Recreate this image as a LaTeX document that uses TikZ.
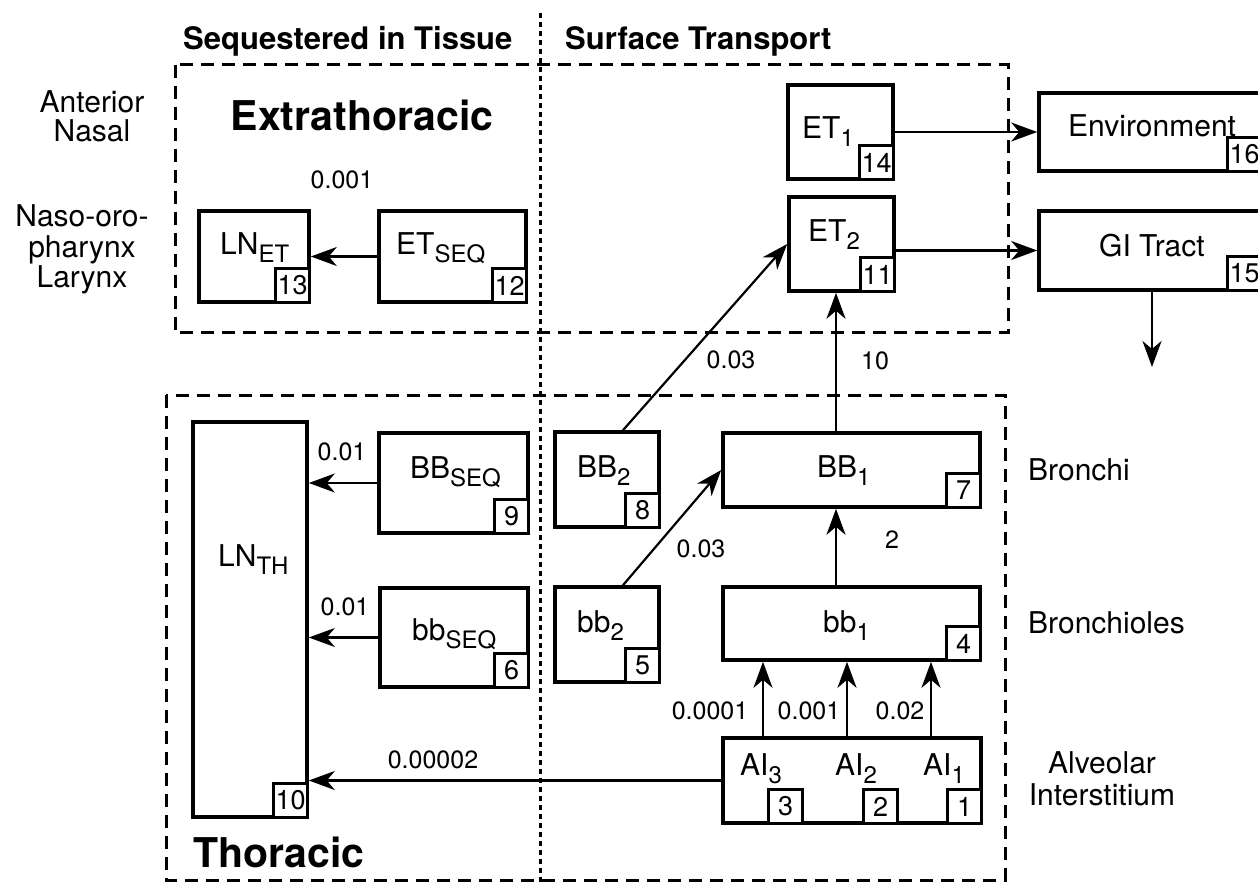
\documentclass[tikz,border=0pt]{standalone}
\usepackage{fontspec}
\setmainfont{TeX Gyre Heros}
\usetikzlibrary{arrows.meta}
\newcommand\sbs[1]{\raisebox{-8pt}{\fontsize{24}{24}\selectfont #1}}
\begin{document}
\begin{tikzpicture}[x=1pt,y=-1pt,
  box/.style={draw, line width=3.6pt, inner sep=0pt},
  numbox/.style={draw, line width=2.4pt, minimum size=34pt, inner sep=0pt, fill=white, font=\fontsize{27}{27}\selectfont},
  lbl/.style={inner sep=0pt, font=\fontsize{30}{30}\selectfont},
  rate/.style={inner sep=0pt, font=\fontsize{25}{25}\selectfont},
  head/.style={inner sep=0pt, font=\fontsize{31}{31}\selectfont\bfseries},
  big/.style={inner sep=0pt, font=\fontsize{41}{41}\selectfont\bfseries},
  region/.style={line width=3pt, dash pattern=on 13pt off 8pt},
  divider/.style={line width=3pt, dash pattern=on 5pt off 4pt},
  flow/.style={line width=2.2pt, -{Stealth[length=26pt,width=19pt,inset=8pt]}},
]
\useasboundingbox (0,0) rectangle (1258,882);

% regions
\draw[region] (175,65) rectangle (1008,333);
\draw[region] (166,395) rectangle (1005,880);
\draw[divider] (540,13) -- (540,882);

% headings
\node[head, anchor=base west] (hSeq) at (183,50) {Sequestered in Tissue};
\node[head, anchor=base west] (hSurf) at (565,50) {Surface Transport};
\node[big, anchor=base] (hET) at (362,131) {Extrathoracic};
\node[big, anchor=base west] (hTH) at (193,867) {Thoracic};

% side labels
\node[lbl, anchor=base] (lAnt) at (92,113) {Anterior};
\node[lbl, anchor=base] (lNas) at (92,142) {Nasal};
\node[lbl, anchor=base] (lNaso) at (82,227) {Naso-oro-};
\node[lbl, anchor=base] (lPhar) at (82,258) {pharynx};
\node[lbl, anchor=base] (lLar) at (82,288) {Larynx};
\node[lbl, anchor=base west] (lBr) at (1028,480) {Bronchi};
\node[lbl, anchor=base west] (lBrl) at (1028,633) {Bronchioles};
\node[lbl, anchor=base] (lAlv) at (1102,773) {Alveolar};
\node[lbl, anchor=base] (lInt) at (1102,805) {Interstitium};

% compartments
\node[box, minimum width=110pt, minimum height=91pt] (LNET) at (254,256.5) {};
\node[box, minimum width=147pt, minimum height=91pt] (ETSEQ) at (452.5,256.5) {};
\node[box, minimum width=105pt, minimum height=94pt] (ET1) at (840.5,132) {};
\node[box, minimum width=105pt, minimum height=94pt] (ET2) at (841.5,244) {};
\node[box, minimum width=222pt, minimum height=78pt] (ENV) at (1150,132) {};
\node[box, minimum width=222pt, minimum height=79pt] (GI) at (1150,250.5) {};
\node[box, minimum width=114pt, minimum height=395pt] (LNTH) at (250,619.5) {};
\node[box, minimum width=149pt, minimum height=100pt] (BBSEQ) at (453.5,483) {};
\node[box, minimum width=148pt, minimum height=99pt] (bbSEQ) at (454,637.5) {};
\node[box, minimum width=104pt, minimum height=95pt] (BB2) at (607,479.5) {};
\node[box, minimum width=104pt, minimum height=95pt] (bb2) at (607,634.5) {};
\node[box, minimum width=257pt, minimum height=74pt] (BB1) at (851.5,470) {};
\node[box, minimum width=257pt, minimum height=73pt] (bb1) at (851.5,623.5) {};
\node[box, minimum width=258pt, minimum height=85pt] (AI) at (852,780.5) {};

% compartment texts
\node[lbl, anchor=base west] (tLNET) at (220,255) {LN\sbs{ET}};
\node[lbl, anchor=base west] (tETSEQ) at (396,255) {ET\sbs{SEQ}};
\node[lbl, anchor=base west] (tET1) at (802,139) {ET\sbs{1}};
\node[lbl, anchor=base west] (tET2) at (808,242) {ET\sbs{2}};
\node[lbl, anchor=base west] (tENV) at (1068,137) {Environment};
\node[lbl, anchor=base west] (tGI) at (1099,257) {GI Tract};
\node[lbl, anchor=base west] (tLNTH) at (218,566) {LN\sbs{TH}};
\node[lbl, anchor=base west] (tBBSEQ) at (410,478) {BB\sbs{SEQ}};
\node[lbl, anchor=base west] (tbbSEQ) at (412,640) {bb\sbs{SEQ}};
\node[lbl, anchor=base west] (tBB2) at (577,477) {BB\sbs{2}};
\node[lbl, anchor=base west] (tbb2) at (577,632) {bb\sbs{2}};
\node[lbl, anchor=base west] (tBB1) at (817,477) {BB\sbs{1}};
\node[lbl, anchor=base west] (tbb1) at (823,632) {bb\sbs{1}};
\node[lbl, anchor=base west] (tAI3) at (740,775) {AI\sbs{3}};
\node[lbl, anchor=base west] (tAI2) at (835,775) {AI\sbs{2}};
\node[lbl, anchor=base west] (tAI1) at (923,775) {AI\sbs{1}};

% compartment numbers
\node[numbox, anchor=south east] (n13) at (LNET.south east) {13};
\node[numbox, anchor=south east] (n12) at (ETSEQ.south east) {12};
\node[numbox, anchor=south east] (n14) at (ET1.south east) {14};
\node[numbox, anchor=south east] (n11) at (ET2.south east) {11};
\node[numbox, anchor=south east] (n16) at (ENV.south east) {16};
\node[numbox, anchor=south east] (n15) at (GI.south east) {15};
\node[numbox, anchor=south east] (n10) at (LNTH.south east) {10};
\node[numbox, anchor=south east] (n9) at (BBSEQ.south east) {9};
\node[numbox, anchor=south east] (n6) at (bbSEQ.south east) {6};
\node[numbox, anchor=south east] (n8) at (BB2.south east) {8};
\node[numbox, anchor=south east] (n5) at (bb2.south east) {5};
\node[numbox, anchor=south east] (n7) at (BB1.south east) {7};
\node[numbox, anchor=south east] (n4) at (bb1.south east) {4};
\node[numbox, anchor=south east] (n3) at ([xshift=-179pt]AI.south east) {3};
\node[numbox, anchor=south east] (n2) at ([xshift=-84pt]AI.south east) {2};
\node[numbox, anchor=south east] (n1) at (AI.south east) {1};

% helper coordinates
\coordinate (gid) at (1152,367);
\coordinate (xa) at (623,0);
\coordinate (xb) at (836,0);
\coordinate (xc1) at (763,0);
\coordinate (xc2) at (847,0);
\coordinate (xc3) at (931,0);

% flows
\draw[flow] (ETSEQ.west) -- (ETSEQ.west -| LNET.east);
\draw[flow] (ET1.east) -- (ENV.west);
\draw[flow] (GI.west -| ET2.east) -- (GI.west);
\draw[flow] (GI.south -| gid) -- (gid);
\draw[flow] (BB2.north -| xa) -- (ET2.west);
\draw[flow] (bb2.north -| xa) -- (BB1.west);
\draw[flow] (BB1.north -| xb) -- (ET2.south -| xb);
\draw[flow] (bb1.north -| xb) -- (BB1.south -| xb);
\draw[flow] (AI.north -| xc1) -- (bb1.south -| xc1);
\draw[flow] (AI.north -| xc2) -- (bb1.south -| xc2);
\draw[flow] (AI.north -| xc3) -- (bb1.south -| xc3);
\draw[flow] (AI.west) -- (AI.west -| LNTH.east);
\draw[flow] (BBSEQ.west) -- (BBSEQ.west -| LNTH.east);
\draw[flow] (bbSEQ.west) -- (bbSEQ.west -| LNTH.east);

% rates
\node[rate] (r1) at (342,180) {0.001};
\node[rate] (r2) at (342,452) {0.01};
\node[rate] (r3) at (345,607) {0.01};
\node[rate] (r4) at (433,760) {0.00002};
\node[rate] (r5) at (731,360) {0.03};
\node[rate] (r6) at (875,361) {10};
\node[rate] (r7) at (701,549) {0.03};
\node[rate] (r8) at (892,540) {2};
\node[rate] (r9) at (710,711) {0.0001};
\node[rate] (r10) at (809,711) {0.001};
\node[rate] (r11) at (900,711) {0.02};
\end{tikzpicture}
\end{document}
